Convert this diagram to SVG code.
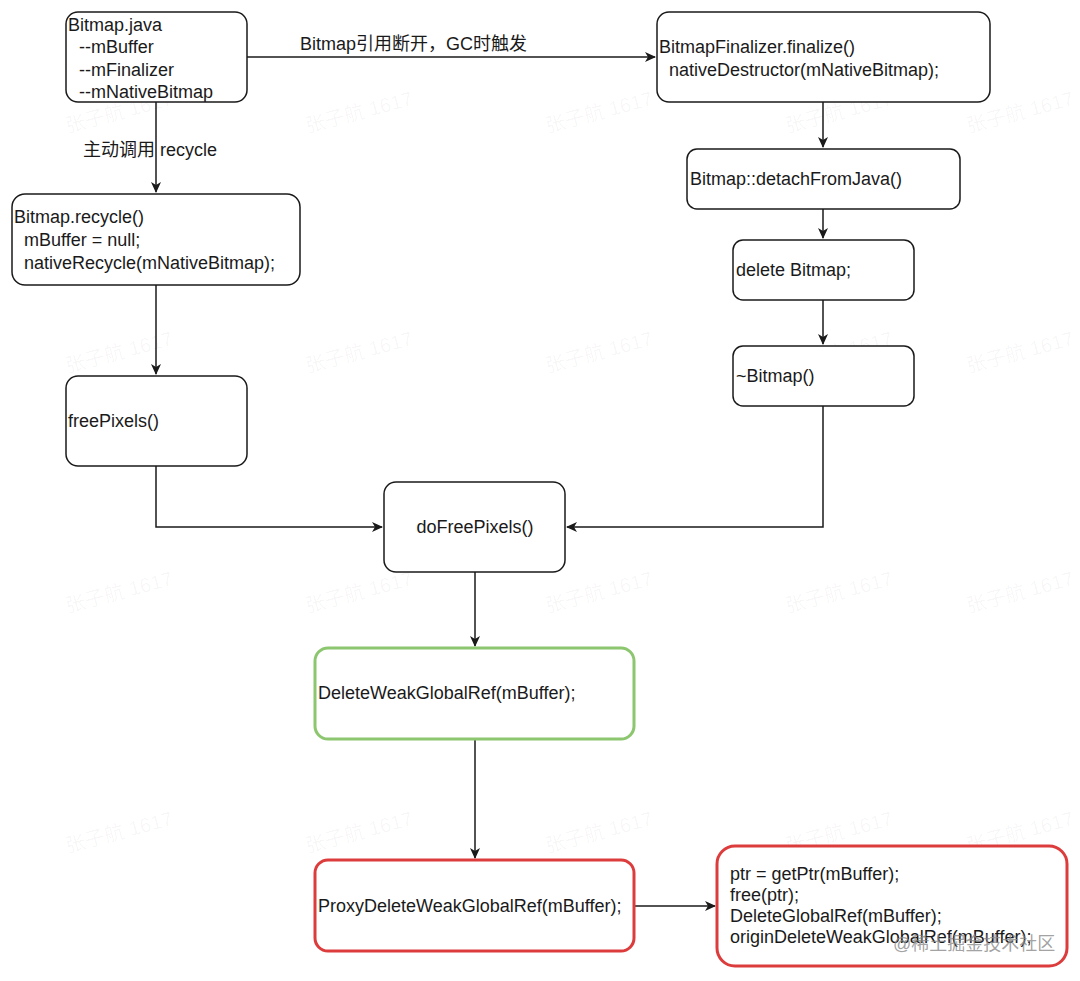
<svg xmlns="http://www.w3.org/2000/svg" width="1080" height="981" viewBox="0 0 1080 981">
<style>
  .bg { fill: #ffffff; }
  .box { fill: #ffffff; stroke: #1a1a1a; stroke-width: 1.5; }
  .green { fill: #ffffff; stroke: #8cc66e; stroke-width: 3; }
  .red { fill: #ffffff; stroke: #dc3c3c; stroke-width: 3; }
  .t { font-family: "Liberation Sans", Arial, "Noto Sans CJK SC", sans-serif; font-size: 18px; fill: #1a1a1a; }
  .edge { fill: none; stroke: #1a1a1a; stroke-width: 1.5; }
  .wm { font-family: "Liberation Sans", "Noto Sans CJK SC", sans-serif; font-size: 20px; fill: #000000; fill-opacity: 0.04; }
  .wm2 { font-family: "Liberation Sans", "Noto Sans CJK SC", sans-serif; font-size: 18px; fill: #8a8a8a; fill-opacity: 0.8; }
</style>
<defs>
  <marker id="arr" markerWidth="12" markerHeight="10" refX="10" refY="5" orient="auto" markerUnits="userSpaceOnUse">
    <path d="M0,0 L11,5 L0,10 L3,5 z" fill="#1a1a1a"/>
  </marker>
</defs>
<rect class="bg" x="0" y="0" width="1080" height="981"/>

<g id="watermarks">
  <text class="wm" x="119" y="119" text-anchor="middle" transform="rotate(-15 119 112)">张子航 1617</text>
  <text class="wm" x="359" y="119" text-anchor="middle" transform="rotate(-15 359 112)">张子航 1617</text>
  <text class="wm" x="599" y="119" text-anchor="middle" transform="rotate(-15 599 112)">张子航 1617</text>
  <text class="wm" x="839" y="119" text-anchor="middle" transform="rotate(-15 839 112)">张子航 1617</text>
  <text class="wm" x="1020" y="119" text-anchor="middle" transform="rotate(-15 1020 112)">张子航 1617</text>
  <text class="wm" x="119" y="359" text-anchor="middle" transform="rotate(-15 119 352)">张子航 1617</text>
  <text class="wm" x="359" y="359" text-anchor="middle" transform="rotate(-15 359 352)">张子航 1617</text>
  <text class="wm" x="599" y="359" text-anchor="middle" transform="rotate(-15 599 352)">张子航 1617</text>
  <text class="wm" x="839" y="359" text-anchor="middle" transform="rotate(-15 839 352)">张子航 1617</text>
  <text class="wm" x="1020" y="359" text-anchor="middle" transform="rotate(-15 1020 352)">张子航 1617</text>
  <text class="wm" x="119" y="599" text-anchor="middle" transform="rotate(-15 119 592)">张子航 1617</text>
  <text class="wm" x="359" y="599" text-anchor="middle" transform="rotate(-15 359 592)">张子航 1617</text>
  <text class="wm" x="599" y="599" text-anchor="middle" transform="rotate(-15 599 592)">张子航 1617</text>
  <text class="wm" x="839" y="599" text-anchor="middle" transform="rotate(-15 839 592)">张子航 1617</text>
  <text class="wm" x="1020" y="599" text-anchor="middle" transform="rotate(-15 1020 592)">张子航 1617</text>
  <text class="wm" x="119" y="839" text-anchor="middle" transform="rotate(-15 119 832)">张子航 1617</text>
  <text class="wm" x="359" y="839" text-anchor="middle" transform="rotate(-15 359 832)">张子航 1617</text>
  <text class="wm" x="599" y="839" text-anchor="middle" transform="rotate(-15 599 832)">张子航 1617</text>
  <text class="wm" x="839" y="839" text-anchor="middle" transform="rotate(-15 839 832)">张子航 1617</text>
  <text class="wm" x="1020" y="839" text-anchor="middle" transform="rotate(-15 1020 832)">张子航 1617</text>
</g>

<g id="connectors">
  <path class="edge" d="M247,57 L655,57" marker-end="url(#arr)"/>
  <text class="t" x="300" y="50">Bitmap引用断开，GC时触发</text>
  <path class="edge" d="M156,102 L156,192" marker-end="url(#arr)"/>
  <text class="t" x="83" y="156">主动调用 recycle</text>
  <path class="edge" d="M156,285 L156,374" marker-end="url(#arr)"/>
  <path class="edge" d="M156,466 L156,527 L382,527" marker-end="url(#arr)"/>
  <path class="edge" d="M823,102 L823,147" marker-end="url(#arr)"/>
  <path class="edge" d="M823,209 L823,238" marker-end="url(#arr)"/>
  <path class="edge" d="M823,300 L823,344" marker-end="url(#arr)"/>
  <path class="edge" d="M823,406 L823,527 L567,527" marker-end="url(#arr)"/>
  <path class="edge" d="M475,572 L475,646" marker-end="url(#arr)"/>
  <path class="edge" d="M475,739 L475,858" marker-end="url(#arr)"/>
  <path class="edge" d="M634,906 L715,906" marker-end="url(#arr)"/>
</g>

<g id="node-bitmap-java">
  <rect class="box" x="66" y="12" width="181" height="90" rx="12"/>
  <text class="t" x="68" y="31">Bitmap.java</text>
  <text class="t" x="79" y="53">--mBuffer</text>
  <text class="t" x="79" y="76">--mFinalizer</text>
  <text class="t" x="79" y="98">--mNativeBitmap</text>
</g>

<g id="node-finalizer">
  <rect class="box" x="657" y="12" width="333" height="90" rx="12"/>
  <text class="t" x="659" y="53">BitmapFinalizer.finalize()</text>
  <text class="t" x="669" y="76">nativeDestructor(mNativeBitmap);</text>
</g>

<g id="node-detach">
  <rect class="box" x="687" y="149" width="273" height="60" rx="10"/>
  <text class="t" x="690" y="185">Bitmap::detachFromJava()</text>
</g>

<g id="node-delete">
  <rect class="box" x="733" y="240" width="181" height="60" rx="10"/>
  <text class="t" x="736" y="276">delete Bitmap;</text>
</g>

<g id="node-destructor">
  <rect class="box" x="733" y="346" width="181" height="60" rx="10"/>
  <text class="t" x="736" y="382">~Bitmap()</text>
</g>

<g id="node-recycle">
  <rect class="box" x="12" y="194" width="288" height="91" rx="13"/>
  <text class="t" x="14" y="223">Bitmap.recycle()</text>
  <text class="t" x="24" y="246">mBuffer = null;</text>
  <text class="t" x="24" y="269">nativeRecycle(mNativeBitmap);</text>
</g>

<g id="node-freepixels">
  <rect class="box" x="66" y="376" width="181" height="90" rx="12"/>
  <text class="t" x="68" y="427">freePixels()</text>
</g>

<g id="node-dofreepixels">
  <rect class="box" x="384" y="482" width="181" height="90" rx="12"/>
  <text class="t" x="475" y="533" text-anchor="middle">doFreePixels()</text>
</g>

<g id="node-deleteweak">
  <rect class="green" x="315" y="648" width="319" height="91" rx="13"/>
  <text class="t" x="318" y="699">DeleteWeakGlobalRef(mBuffer);</text>
</g>

<g id="node-proxy">
  <rect class="red" x="315" y="860" width="319" height="91" rx="13"/>
  <text class="t" x="318" y="912">ProxyDeleteWeakGlobalRef(mBuffer);</text>
</g>

<g id="node-impl">
  <rect class="red" x="717" y="846" width="350" height="120" rx="18"/>
  <text class="t" x="730" y="880">ptr = getPtr(mBuffer);</text>
  <text class="t" x="730" y="901">free(ptr);</text>
  <text class="t" x="730" y="922">DeleteGlobalRef(mBuffer);</text>
  <text class="t" x="730" y="943">originDeleteWeakGlobalRef(mBuffer);</text>
</g>

<text class="wm2" x="893" y="950">@稀土掘金技术社区</text>
</svg>
